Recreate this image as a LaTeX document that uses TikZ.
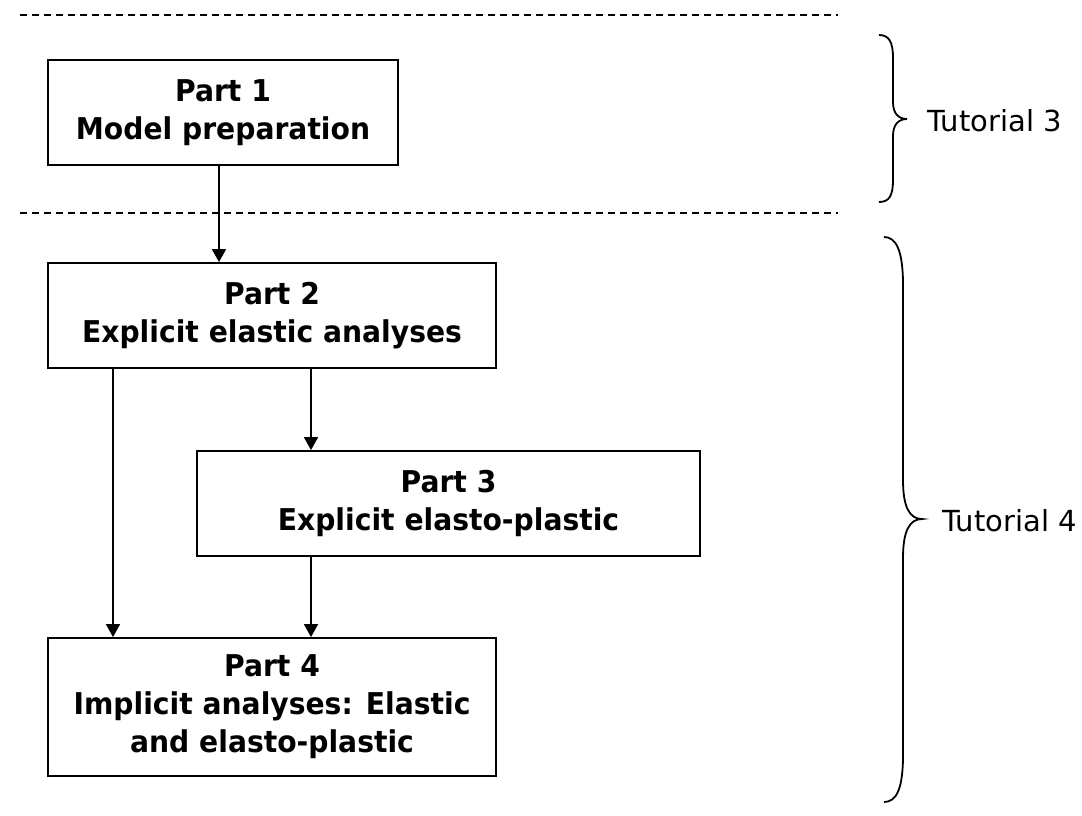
\documentclass[tikz,border=0pt]{standalone}
\usepackage{fontspec}
\setmainfont{DejaVu Sans}
\newfontfamily\boxfont[FakeStretch=0.94]{DejaVu Sans}
\usetikzlibrary{arrows.meta}
\begin{document}
\begin{tikzpicture}[x=1pt,y=-1pt,
  partbox/.style={draw,line width=1.8pt,inner sep=0pt,align=center,font=\boxfont\fontsize{30}{38}\selectfont\bfseries},
  link/.style={line width=1.8pt,-{Triangle[length=13pt,width=14pt]}},
  sep/.style={line width=1.5pt,dash pattern=on 6.5pt off 5.5pt},
  brc/.style={line width=1.8pt},
  tut/.style={font=\fontsize{29}{34}\selectfont,anchor=west}]
\useasboundingbox (0,0) rectangle (1082,816);
\draw[sep] (20,15) -- (838,15);
\draw[sep] (20,213) -- (838,213);
\node[partbox,minimum width=350pt,minimum height=105pt] (p1) at (223,112.5) {Part 1\\Model preparation};
\node[partbox,minimum width=448pt,minimum height=105pt] (p2) at (272,315.5) {Part 2\\Explicit elastic analyses};
\node[partbox,minimum width=503pt,minimum height=105pt] (p3) at (448.5,503.5) {Part 3\\Explicit elasto-plastic};
\node[partbox,minimum width=448pt,minimum height=138pt] (p4) at (272,707) {Part 4\\Implicit analyses: Elastic\\and elasto-plastic};
\draw[link] (p1.south -| 219,0) -- (p2.north -| 219,0);
\draw[link] (p2.south -| 311,0) -- (p3.north -| 311,0);
\draw[link] (p2.south -| 113,0) -- (p4.north -| 113,0);
\draw[link] (p3.south -| 311,0) -- (p4.north -| 311,0);
\draw[brc] (879,35) .. controls (889,35) and (893,42) .. (893,58) -- (893,102) .. controls (893,113) and (898,119) .. (907,119) .. controls (898,119) and (893,125) .. (893,136) -- (893,180) .. controls (893,196) and (889,202) .. (879,202);
\node[tut] (t3) at (924,121) {Tutorial 3};
\draw[brc] (884,237) .. controls (896,237) and (903,250) .. (903,285) -- (903,480) .. controls (903,508) and (910,519) .. (922,519) .. controls (910,519) and (903,530) .. (903,558) -- (903,755) .. controls (903,790) and (896,802) .. (884,802);
\node[tut] (t4) at (939,521) {Tutorial 4};
\end{tikzpicture}
\end{document}
